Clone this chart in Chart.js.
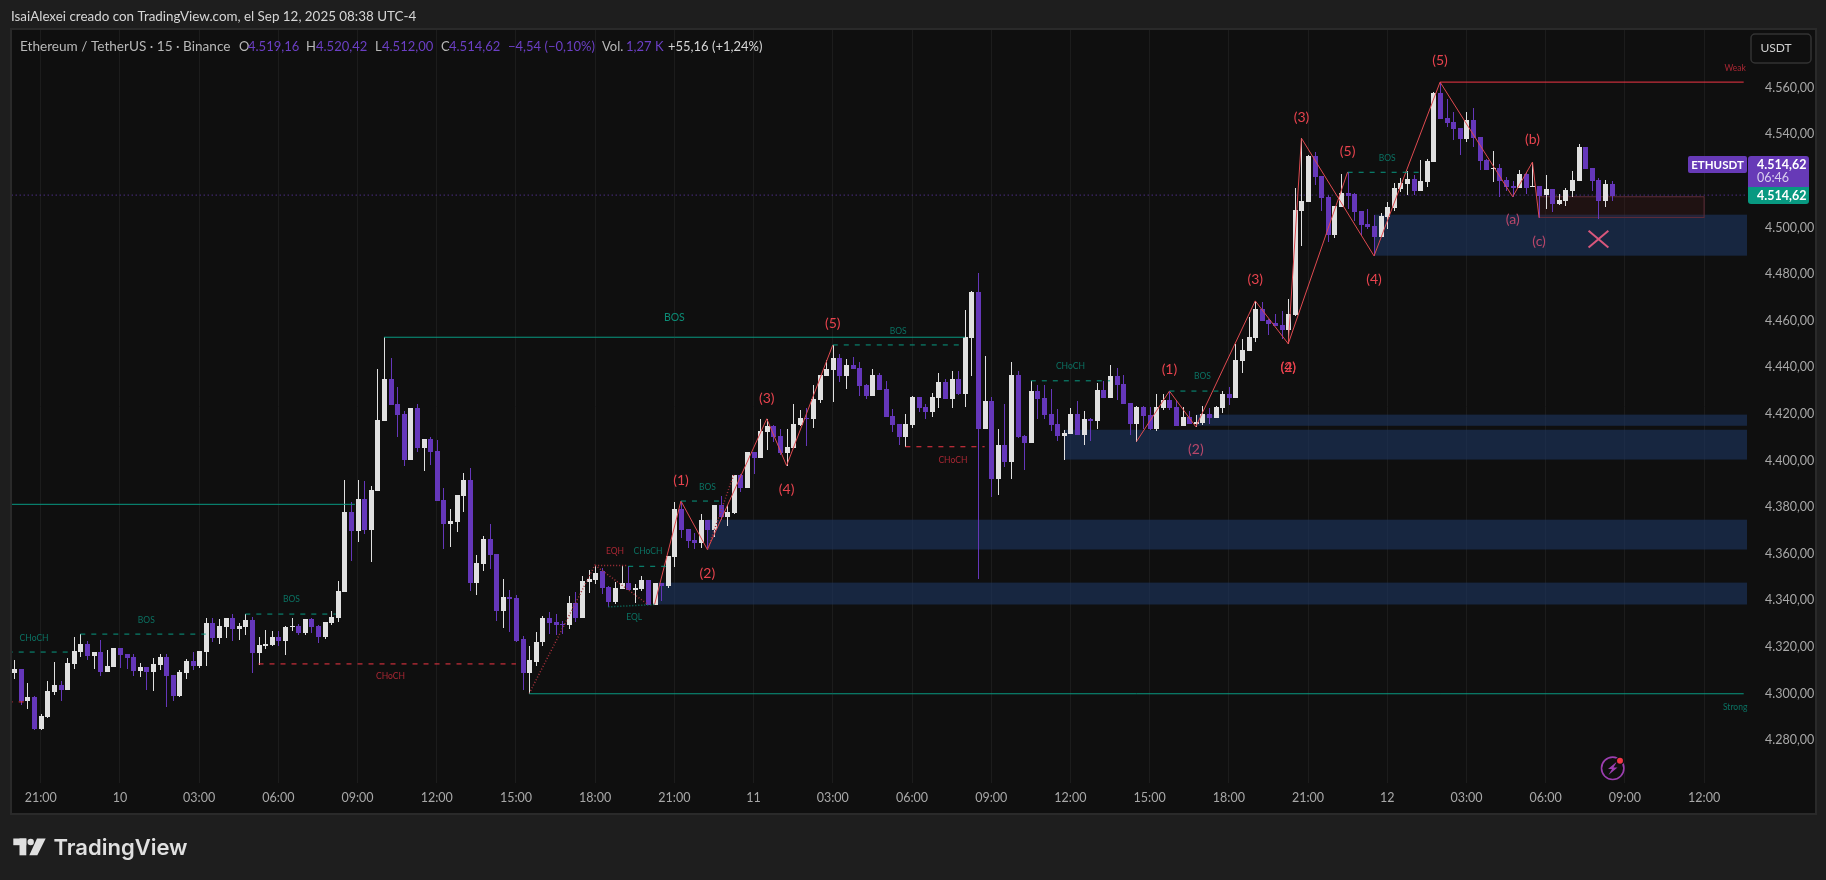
<!DOCTYPE html>
<html>
<head>
<meta charset="utf-8">
<style>html,body{margin:0;padding:0;background:#1e1e1e;overflow:hidden}canvas{display:block}</style>
<script src="https://cdn.jsdelivr.net/npm/chart.js@4/dist/chart.umd.min.js"></script>
</head>
<body>
<canvas id="c" width="1826" height="880"></canvas>
<script>
const opens = [
4308.9,4310.7,4296.9,4298.7,4284.9,4290.1,4300.8,4303.8,4301.7,4312.8,
4317.9,4321.4,4316.2,4317.9,4309.4,4311.5,4319.7,4317.1,4315.8,4309.8,
4311.5,4309.4,4312.4,4315.8,4308.1,4299.1,4308.9,4314.1,4311.9,4317.9,
4330.4,4323.9,4328.7,4332.5,4327.8,4328.7,4331.7,4317.5,4320.5,4320.9,
4324.4,4322.7,4328.7,4329.1,4326.1,4332.1,4329.1,4324.4,4330.4,4332.6,
4343.7,4378.0,4369.9,4383.6,4370.3,4387.0,4417.0,4435.0,4424.3,4420.0,
4400.3,4422.6,4405.4,4409.3,4404.2,4383.2,4372.9,4373.7,4384.9,4391.7,
4347.6,4355.7,4366.4,4360.0,4335.6,4341.6,4341.2,4323.2,4308.6,4313.7,
4321.9,4332.2,4330.9,4329.6,4329.2,4339.0,4332.6,4348.0,4348.9,4352.6,
4345.9,4339.4,4345.0,4347.6,4344.6,4345.0,4348.9,4338.2,4347.6,4346.3,
4358.7,4379.3,4370.8,4366.0,4364.8,4374.6,4370.3,4381.0,4375.9,4377.6,
4393.9,4388.3,4403.8,4401.2,4412.3,4414.9,4410.6,4403.3,4405.5,4415.3,
4418.3,4417.9,4426.0,4436.3,4438.9,4444.0,4436.3,4441.0,4439.8,4432.5,
4427.8,4436.8,4430.8,4419.2,4415.8,4410.2,4415.3,4427.3,4423.0,4420.9,
4426.9,4433.8,4426.5,4435.0,4428.6,4452.6,4472.3,4413.6,4425.6,4392.2,
4406.8,4399.5,4436.8,4410.7,4407.7,4429.9,4426.9,4420.1,4415.8,4410.7,
4411.5,4420.1,4411.1,4417.9,4417.1,4430.4,4426.9,4436.4,4432.9,4424.8,
4415.8,4423.1,4419.7,4413.7,4422.7,4426.1,4423.1,4414.9,4418.8,4415.8,
4416.2,4420.1,4418.4,4422.7,4428.7,4426.9,4442.8,4447.1,4452.7,4465.1,
4460.4,4459.1,4458.3,4456.1,4462.6,4507.1,4511.0,4530.7,4522.1,4513.1,
4496.8,4508.8,4514.8,4514.4,4507.1,4501.6,4500.7,4496.0,4504.6,4508.4,
4516.6,4518.7,4520.8,4515.7,4519.6,4528.1,4557.9,4547.1,4545.3,4542.8,
4538.1,4546.2,4538.9,4529.1,4525.2,4525.6,4520.5,4517.9,4517.1,4523.1,
4517.5,4517.9,4514.1,4516.6,4510.2,4511.5,4515.8,4520.1,4534.6,4525.6,
4520.5,4511.5,4518.8
];
const highs = [
4314.5,4310.7,4304.7,4299.1,4291.4,4305.5,4313.7,4305.5,4315.4,4324.4,
4325.7,4322.7,4317.9,4323.1,4318.8,4319.7,4319.7,4317.1,4317.1,4313.2,
4311.5,4315.4,4317.1,4317.1,4308.1,4310.2,4314.9,4317.9,4318.4,4332.5,
4332.5,4332.1,4332.5,4334.2,4330.4,4334.2,4332.9,4324.4,4327.4,4326.9,
4326.9,4329.1,4332.5,4329.9,4332.1,4332.5,4329.5,4330.8,4335.5,4348.4,
4391.7,4382.3,4391.7,4391.3,4389.2,4439.3,4452.9,4444.0,4431.6,4421.3,
4422.6,4424.3,4409.3,4410.2,4408.9,4388.3,4379.3,4385.3,4394.7,4396.9,
4359.6,4367.7,4372.9,4360.0,4349.3,4344.6,4342.4,4324.9,4320.2,4326.6,
4333.4,4335.2,4334.3,4331.3,4342.0,4343.7,4350.6,4353.2,4355.3,4354.0,
4346.3,4348.0,4354.9,4354.9,4347.2,4350.6,4348.9,4347.6,4347.6,4359.2,
4382.3,4382.6,4370.8,4369.0,4377.2,4374.6,4381.0,4384.9,4381.0,4393.9,
4394.3,4403.8,4403.8,4417.9,4417.9,4415.3,4413.6,4413.6,4424.3,4421.8,
4422.6,4432.5,4436.8,4443.2,4449.6,4445.8,4443.6,4444.5,4442.3,4432.9,
4439.3,4437.6,4434.2,4422.2,4415.8,4420.0,4427.8,4427.3,4424.3,4429.0,
4437.6,4435.0,4438.5,4438.5,4464.6,4472.7,4480.5,4444.9,4427.3,4413.6,
4424.3,4442.4,4438.5,4411.1,4434.2,4432.5,4432.5,4430.8,4422.2,4413.2,
4422.7,4425.7,4421.4,4418.4,4433.4,4434.2,4441.1,4439.8,4436.8,4424.8,
4423.5,4423.5,4423.1,4428.7,4428.7,4429.9,4426.1,4423.1,4421.4,4419.7,
4423.5,4422.7,4423.5,4429.9,4431.7,4450.1,4452.2,4461.7,4468.5,4468.1,
4460.8,4462.9,4464.3,4469.4,4517.0,4538.3,4531.1,4532.4,4522.1,4514.0,
4509.3,4523.0,4523.8,4514.8,4507.1,4508.0,4505.4,4506.3,4511.0,4519.1,
4521.3,4524.3,4522.6,4529.0,4529.4,4558.3,4562.4,4555.1,4549.6,4542.8,
4549.6,4551.3,4538.9,4529.5,4532.9,4527.3,4521.8,4520.1,4524.8,4523.9,
4528.2,4517.9,4522.6,4516.6,4514.5,4517.1,4524.3,4535.9,4534.6,4525.6,
4521.3,4520.5,4520.0
];
const lows = [
4306.4,4295.2,4293.5,4284.5,4284.5,4289.7,4299.5,4296.9,4301.7,4310.7,
4315.8,4314.5,4310.7,4307.7,4309.4,4311.5,4311.1,4310.7,4307.7,4307.2,
4301.7,4301.2,4310.2,4294.4,4296.9,4298.7,4306.4,4310.2,4311.1,4311.9,
4322.2,4321.4,4323.9,4322.7,4323.1,4325.2,4308.9,4312.4,4319.2,4320.5,
4320.5,4316.7,4326.9,4325.2,4325.2,4326.1,4321.8,4323.5,4329.5,4330.9,
4343.7,4357.0,4365.2,4368.6,4356.6,4387.0,4417.0,4423.9,4410.2,4397.7,
4400.3,4403.7,4395.6,4398.2,4382.7,4362.2,4363.0,4369.4,4378.0,4344.2,
4342.4,4352.7,4353.6,4331.3,4328.3,4326.6,4321.9,4301.3,4300.0,4312.0,
4320.2,4325.7,4325.3,4325.7,4327.9,4330.9,4332.6,4343.3,4347.2,4342.9,
4337.2,4338.6,4345.0,4344.6,4339.0,4344.2,4338.2,4338.2,4339.9,4345.4,
4354.4,4366.9,4362.6,4362.2,4362.6,4361.8,4367.3,4374.6,4372.0,4377.2,
4386.6,4388.3,4394.3,4401.2,4404.6,4408.0,4402.5,4397.8,4405.5,4414.9,
4406.3,4414.0,4424.8,4436.3,4425.2,4433.8,4430.8,4439.3,4427.8,4426.5,
4427.8,4430.3,4418.8,4412.3,4406.8,4405.9,4414.0,4420.9,4417.9,4418.8,
4422.6,4426.5,4422.6,4428.2,4423.0,4436.3,4349.3,4413.6,4384.5,4385.3,
4397.3,4392.2,4409.8,4396.1,4407.7,4417.9,4417.9,4412.8,4408.5,4400.4,
4411.5,4411.1,4406.8,4408.5,4413.7,4426.9,4426.9,4426.1,4424.4,4411.1,
4408.1,4413.7,4413.2,4412.8,4421.8,4421.8,4414.9,4414.9,4415.8,4414.5,
4415.4,4415.8,4418.4,4420.5,4423.9,4426.9,4437.7,4447.1,4450.9,4459.9,
4453.9,4457.8,4452.3,4450.1,4462.1,4492.1,4511.0,4518.3,4507.1,4493.8,
4495.6,4508.8,4508.0,4502.8,4496.8,4499.4,4487.8,4496.0,4499.4,4507.1,
4515.3,4514.0,4514.0,4515.7,4517.4,4528.1,4546.6,4543.1,4537.6,4531.2,
4536.8,4534.6,4524.8,4524.8,4519.6,4513.2,4515.8,4513.2,4517.1,4514.5,
4517.5,4504.2,4508.1,4506.8,4509.8,4509.3,4513.2,4520.1,4525.2,4515.8,
4503.8,4508.9,4511.5
];
const closes = [
4310.7,4296.9,4298.7,4284.9,4290.5,4301.2,4303.8,4301.7,4313.2,4318.4,
4321.4,4316.2,4317.9,4309.4,4311.9,4319.7,4316.7,4315.4,4309.8,4311.5,
4309.4,4312.8,4315.8,4307.7,4299.1,4309.4,4314.1,4311.9,4318.4,4330.4,
4323.9,4329.1,4332.5,4327.8,4329.1,4331.7,4317.5,4320.9,4321.4,4324.4,
4322.7,4328.7,4329.1,4326.1,4332.1,4328.7,4324.4,4330.8,4332.9,4344.2,
4378.0,4369.9,4383.6,4370.3,4387.4,4417.4,4435.0,4423.9,4419.6,4400.3,
4422.6,4405.4,4409.3,4403.7,4382.7,4372.9,4374.2,4385.3,4391.7,4347.6,
4356.2,4366.4,4359.6,4335.6,4341.6,4340.7,4322.7,4308.6,4314.2,4322.3,
4332.2,4330.4,4329.2,4329.2,4339.0,4332.6,4348.4,4349.3,4351.9,4345.4,
4339.4,4345.4,4347.6,4344.6,4345.4,4348.9,4338.2,4347.6,4346.3,4359.2,
4379.3,4370.3,4365.6,4364.8,4374.6,4370.3,4381.0,4375.9,4378.0,4393.9,
4388.3,4403.8,4401.2,4412.8,4414.9,4410.2,4403.3,4405.9,4415.8,4418.3,
4417.9,4426.5,4436.8,4439.3,4444.0,4436.3,4441.0,4439.3,4432.0,4427.8,
4436.8,4430.3,4418.8,4415.3,4410.2,4415.8,4427.3,4422.6,4420.9,4427.3,
4433.8,4426.5,4435.0,4428.6,4453.0,4472.3,4413.6,4425.6,4392.2,4406.8,
4399.5,4436.8,4410.2,4407.7,4429.9,4426.5,4419.7,4415.4,4410.7,4411.9,
4420.1,4411.1,4417.9,4417.1,4430.4,4426.9,4436.4,4432.5,4424.4,4415.8,
4423.1,4419.2,4413.7,4423.1,4426.1,4422.7,4414.9,4418.8,4415.8,4416.7,
4420.1,4418.4,4423.1,4428.7,4426.9,4443.2,4447.5,4453.1,4465.1,4459.9,
4458.7,4457.8,4456.1,4463.0,4507.6,4511.4,4530.7,4521.7,4512.7,4496.8,
4509.3,4514.8,4513.6,4506.7,4501.1,4500.3,4496.0,4505.0,4508.8,4517.0,
4519.1,4520.8,4515.7,4520.0,4528.6,4557.9,4546.6,4544.9,4542.3,4538.1,
4546.2,4538.5,4528.6,4524.8,4525.6,4520.1,4517.5,4517.1,4523.1,4517.1,
4517.9,4513.6,4516.6,4510.2,4511.9,4516.2,4520.5,4534.6,4525.2,4520.1,
4511.5,4518.8,4513.6
];

const xTickBars = [4,16,28,40,52,64,76,88,100,112,124,136,148,160,172,184,196,208,220,232,244,256];
const xTickLabels = ["21:00","10","03:00","06:00","09:00","12:00","15:00","18:00","21:00","11","03:00","06:00","09:00","12:00","15:00","18:00","21:00","12","03:00","06:00","09:00","12:00"];
const yTicks = [4560,4540,4500,4480,4460,4440,4420,4400,4380,4360,4340,4320,4300,4280];

const waveA = [[97,4338.2],[101,4382.6],[105,4361.8],[114,4417.9],[117,4397.8],[124,4449.6]];
const waveB = [[170,4408.1],[175,4429.8],[179,4414.5],[188,4468.5],[193,4450.1],[195,4538.3],[206,4487.8],[216,4562.4],[227,4513.2],[230,4528.1],[231,4504.2]];
const waveC = [[193,4450.1],[202,4523.8]];
const solidTeal = [[[56,4452.9],[144,4452.9]],[[-1,4381.2],[51.6,4381.2]],[[78,4299.9],[262,4299.9]]];
const solidRed = [[[216,4562.4],[262,4562.4]]];
const dashedTeal = [[[-1,4317.8],[8.5,4317.8]],[[10,4325.5],[29,4325.5]],[[35,4334.1],[48.7,4334.1]],[[93,4354.6],[98.7,4354.6]],[[101,4382.6],[107,4382.6]],[[124,4449.6],[143.5,4449.6]],[[154,4434.2],[166,4434.2]],[[175,4429.8],[183,4429.8]],[[202,4523.7],[213.5,4523.7]]];
const dashedRed = [[[-1,4296.4],[2,4296.4]],[[37,4312.7],[76,4312.7]],[[135,4405.9],[147,4405.9]]];
const dottedRed = [[[78,4300],[88,4355.3]],[[88,4354.9],[93,4354.9]],[[88,4355],[96,4338.2]],[[105,4361.8],[109,4393.9]]];
const dottedTeal = [[[90,4337.2],[97,4338.2]]];
const crossMark = [[[238.5,4498.6],[241.5,4491.4]],[[238.5,4491.4],[241.5,4498.6]]];
const lastPriceLine = [[-1,4513.9],[262.5,4513.9]];

const zones = [[97.5,4347.6,4338.2],[105,4374.6,4361.8],[159,4413.2,4400.4],[179,4419.7,4414.9],[206,4505.5,4487.9]];
const redBox = [231,256,4513.2,4504.3];
const smallTeal = [[3,4323.9,"CHoCH"],[20,4331.6,"BOS"],[42,4340.6,"BOS"],[96,4361.2,"CHoCH"],[93.9,4332.8,"EQL"],[105,4388.6,"BOS"],[133.9,4455.6,"BOS"],[160,4440.6,"CHoCH"],[180,4436.3,"BOS"],[208,4529.8,"BOS"],[260.7,4294.2,"Strong"]];
const smallRed = [[57,4307.5,"CHoCH"],[91,4361.2,"EQH"],[142.2,4400.2,"CHoCH"],[260.7,4568.5,"Weak"]];
const waveLabels = [[101,4391.6,"(1)"],[105,4351.7,"(2)"],[114,4426.8,"(3)"],[117,4387.6,"(4)"],[124,4458.6,"(5)"],[175,4439.1,"(1)"],[188,4477.5,"(3)"],[193,4440.1,"(2)"],[193,4440.1,"(4)"],[195,4547.3,"(3)"],[202,4532.8,"(5)"],[206,4477.8,"(4)"],[216,4571.5,"(5)"],[230,4537.6,"(b)"]];
const pinkLabels = [[179,4404.8,"(2)"],[227,4503.6,"(a)"],[231,4494.1,"(c)"]];

const FONT = '"Lato","Noto Sans",sans-serif';
const WHITE='#e0e0e0', PURPLE='#6537ba', TEAL='#089981', RED='#f23645', WAVE='#e04a50';
const idx = opens.map((_,i)=>i);
const candleColors = idx.map(i=> closes[i]<opens[i] ? PURPLE : WHITE);
const bodies = idx.map(i=>({x:i,y:[Math.min(opens[i],closes[i]),Math.max(opens[i],closes[i])]}));
const wicks = idx.map(i=>({x:i,y:[lows[i],highs[i]]}));
const pts = a=>a.map(p=>({x:p[0],y:p[1]}));
const lineDs = (a,color,dash,width,order)=>({type:'line',data:pts(a),borderColor:color,borderWidth:width||1,borderDash:dash||[],pointRadius:0,tension:0,fill:false,order:order||1,parsing:true});

const datasets = [
 {type:'bar',data:wicks,backgroundColor:candleColors,barThickness:1,grouped:false,order:6,inflateAmount:0,minBarLength:1},
 {type:'bar',data:bodies,backgroundColor:candleColors,barThickness:5,grouped:false,order:5,inflateAmount:0,minBarLength:1},
 lineDs(lastPriceLine,'#673ab7',[1,3],1,7),
 ...solidTeal.map(a=>lineDs(a,TEAL)),
 ...solidRed.map(a=>lineDs(a,RED)),
 ...dashedTeal.map(a=>lineDs(a,TEAL,[5,6])),
 ...dashedRed.map(a=>lineDs(a,RED,[5,6])),
 ...dottedRed.map(a=>lineDs(a,'#a8323c',[1,2],1.5)),
 ...dottedTeal.map(a=>lineDs(a,'#0a7a68',[1,2],1.5)),
 lineDs(waveA,WAVE),lineDs(waveB,WAVE),lineDs(waveC,WAVE),
 ...crossMark.map(a=>lineDs(a,'#d9577c',[],2))
];

function rr(c,x,y,w,h,r){c.beginPath();c.roundRect(x,y,w,h,r);}
function tx(c,s,x,y,font,color,align){c.font=font;c.fillStyle=color;c.textAlign=align||'left';c.textBaseline='middle';c.fillText(s,x,y);}

const decor = {
 id:'decor',
 afterDatasetsUpdate(ch){
  // snap candle bars to whole pixels, as the trading platform does
  [0,1].forEach(d=>ch.getDatasetMeta(d).data.forEach(el=>{
    el.x=Math.round(el.x)+0.5;
    const a=Math.round(el.y),b=Math.round(el.base);
    el.y=a; el.base=(a===b)?a+1:b;
  }));
 },
 beforeDraw(ch){
  const c=ch.ctx;
  c.save();
  c.fillStyle='#1e1e1e';c.fillRect(0,0,1826,880);
  c.fillStyle='#2a2a2a';c.fillRect(10,28,1807,787);
  c.fillStyle='#0f0f0f';c.fillRect(12,30,1803,783);
  c.restore();
 },
 beforeDatasetsDraw(ch){
  const c=ch.ctx,X=ch.scales.x,Y=ch.scales.y,R=ch.chartArea.right;
  c.save();
  c.fillStyle='rgba(28,53,97,0.6)';
  zones.forEach(z=>{const x=X.getPixelForValue(z[0]),t=Y.getPixelForValue(z[1]),b=Y.getPixelForValue(z[2]);c.fillRect(x,t,R-x,b-t);});
  const x0=X.getPixelForValue(redBox[0]),x1=X.getPixelForValue(redBox[1]),t=Y.getPixelForValue(redBox[2]),b=Y.getPixelForValue(redBox[3]);
  c.fillStyle='rgba(90,30,30,0.22)';c.fillRect(x0,t,x1-x0,b-t);
  c.strokeStyle='#5d2c38';c.lineWidth=1;c.strokeRect(x0,t,x1-x0,b-t);
  c.restore();
 },
 afterDraw(ch){
  const c=ch.ctx,X=ch.scales.x,Y=ch.scales.y;
  c.save();
  const put=(list,font,color)=>list.forEach(l=>tx(c,l[2],X.getPixelForValue(l[0]),Y.getPixelForValue(l[1]),font,color,'center'));
  put(smallTeal,'8.5px '+FONT,'#0b7263');
  put(smallRed,'8.5px '+FONT,'#a82733');
  put([[100,4461.2,"BOS"]],'10.5px '+FONT,'#0c8c76');
  put(waveLabels,'14px '+FONT,'#e8434e');
  put(pinkLabels,'14px '+FONT,'#b9476a');
  tx(c,'IsaiAlexei creado con TradingView.com, el Sep 12, 2025 08:38 UTC-4',11,17,'13.4px '+FONT,'#d6d6d6');
  const L=47,F='13px '+FONT,G='#b8b8b8',V='#6b3fc4';
  tx(c,'Ethereum / TetherUS · 15 · Binance',20,L,'13.6px '+FONT,G);
  [['O',239],['H',306],['L',375],['C',441]].forEach(a=>tx(c,a[0],a[1],L,F,G));
  [['4.519,16',248],['4.520,42',316],['4.512,00',382],['4.514,62',449],['−4,54 (−0,10%)',508],['1,27 K',626]].forEach(a=>tx(c,a[0],a[1],L,F,V));
  tx(c,'Vol.',602,L,F,G);
  tx(c,'+55,16 (+1,24%)',668,L,F,'#d6d6d6');
  c.strokeStyle='#333333';c.lineWidth=1.5;rr(c,1751,34,60,29,4);c.stroke();
  tx(c,'USDT',1776,48,'12px '+FONT,'#d0d0d0','center');
  c.fillStyle='#673ab7';rr(c,1688,156,59,17,2);c.fill();
  tx(c,'ETHUSDT',1717.5,165,'bold 11.5px '+FONT,'#ffffff','center');
  c.fillStyle='#673ab7';rr(c,1748,156,61,31,[3,3,0,0]);c.fill();
  tx(c,'4.514,62',1757,165,'bold 12.5px '+FONT,'#ffffff');
  tx(c,'06:46',1757,178,'12.5px '+FONT,'#d9cfee');
  c.fillStyle='#089981';rr(c,1748,187,61,17,[0,0,3,3]);c.fill();
  tx(c,'4.514,62',1757,195.5,'bold 12.5px '+FONT,'#ffffff');
  c.strokeStyle='#9c3fb0';c.lineWidth=1.6;c.beginPath();c.arc(1612.7,768.3,11.2,0,Math.PI*2);c.stroke();
  c.fillStyle='#9c3fb0';c.beginPath();
  [[1617,761.5],[1608,769],[1612,769],[1608.5,775],[1617.5,767.5],[1613.5,767.5]].forEach((p,i)=>i?c.lineTo(p[0],p[1]):c.moveTo(p[0],p[1]));
  c.closePath();c.fill();
  c.fillStyle='#0f0f0f';c.beginPath();c.arc(1620,760.7,4.2,0,Math.PI*2);c.fill();
  c.fillStyle='#f23645';c.beginPath();c.arc(1620,760.7,3,0,Math.PI*2);c.fill();
  c.fillStyle='#e0e0e0';
  c.fillRect(13.3,838.5,13,6.7);c.fillRect(19.5,838.5,6.8,16.8);
  c.beginPath();c.arc(30.7,842,3.2,0,Math.PI*2);c.fill();
  c.beginPath();c.moveTo(37,838.5);c.lineTo(45.7,838.5);c.lineTo(37.3,855.3);c.lineTo(29.3,855.3);c.closePath();c.fill();
  tx(c,'TradingView',53.5,848,'600 22px "Inter",sans-serif','#e0e0e0');
  c.restore();
 }
};

new Chart(document.getElementById('c'),{
 type:'bar',
 data:{datasets},
 plugins:[decor],
 options:{
  responsive:false,animation:false,devicePixelRatio:1,
  layout:{padding:{left:12,top:30,right:11,bottom:67}},
  plugins:{legend:{display:false},tooltip:{enabled:false}},
  scales:{
   x:{type:'linear',min:-0.348,max:262.5,offset:false,
    grid:{color:'#1c1c1c',offset:false,drawTicks:false},border:{display:false},
    afterBuildTicks(s){s.ticks=xTickBars.map(v=>({value:v}));},
    afterFit(s){s.height=30;},
    ticks:{autoSkip:false,maxRotation:0,padding:7,color:'#a8a8a8',font:{family:FONT,size:12.5},
     callback(v){const k=xTickBars.indexOf(v);return k<0?'':xTickLabels[k];}}},
   y:{type:'linear',position:'right',min:4261.6,max:4584.76,
    grid:{display:false},border:{display:false},
    afterBuildTicks(s){s.ticks=yTicks.map(v=>({value:v}));},
    afterFit(s){s.width=68;},
    ticks:{padding:10,color:'#a8a8a8',font:{family:FONT,size:12.5},
     callback(v){return v.toLocaleString('de-DE',{minimumFractionDigits:2,maximumFractionDigits:2});}}}
  }
 }
});
</script>
</body>
</html>
